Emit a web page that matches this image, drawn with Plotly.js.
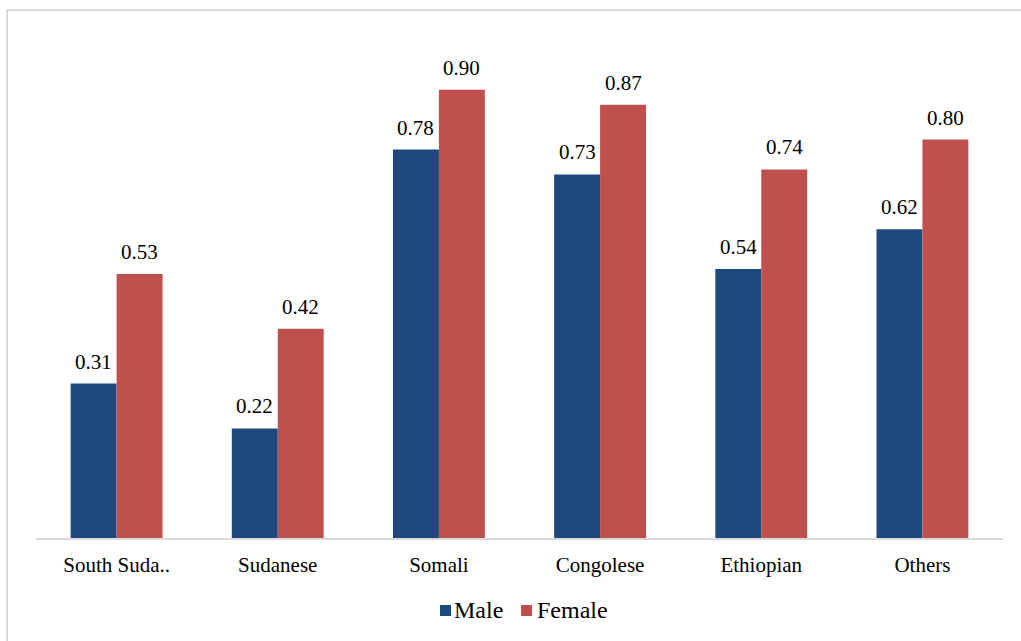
<!DOCTYPE html>
<html>
<head>
<meta charset="utf-8">
<script src="https://cdn.plot.ly/plotly-3.0.1.min.js"></script>
<style>
  html, body { margin: 0; padding: 0; background: #fff; }
  #chart { width: 1021px; height: 641px; }
</style>
</head>
<body>
<div id="chart"></div>
<script>
// Share by group and sex
const groups = ["South Suda..", "Sudanese", "Somali", "Congolese", "Ethiopian", "Others"];
const maleValues = [0.31, 0.22, 0.78, 0.73, 0.54, 0.62];
const femaleValues = [0.53, 0.42, 0.90, 0.87, 0.74, 0.80];
const seriesNames = ["Male", "Female"];

const maleColor = "#1F497D";
const femaleColor = "#C0504D";
const serif = "'Liberation Serif', 'Times New Roman', serif";

const traces = [
  { type: "bar", name: seriesNames[0], x: groups, y: maleValues,
    marker: { color: maleColor }, hoverinfo: "skip" },
  { type: "bar", name: seriesNames[1], x: groups, y: femaleValues,
    marker: { color: femaleColor }, hoverinfo: "skip" }
];

// Value labels above each bar, offset to the bar's half of the group
const annotations = [];
groups.forEach((g, i) => {
  annotations.push({ x: g, y: maleValues[i], xref: "x", yref: "y",
    text: maleValues[i].toFixed(2), showarrow: false, xshift: -23,
    yanchor: "bottom", yshift: 8, font: { family: serif, size: 21, color: "#000" } });
  annotations.push({ x: g, y: femaleValues[i], xref: "x", yref: "y",
    text: femaleValues[i].toFixed(2), showarrow: false, xshift: 23,
    yanchor: "bottom", yshift: 8, font: { family: serif, size: 21, color: "#000" } });
});

// Compact legend below the axis: small square swatch followed by the name
const legendItems = [
  { name: seriesNames[0], color: maleColor, x0: 0.4178, x1: 0.4292, tx: 0.4302 },
  { name: seriesNames[1], color: femaleColor, x0: 0.5016, x1: 0.5129, tx: 0.5160 }
];
const shapes = [{
  type: "rect", xref: "paper", yref: "paper",
  x0: -29 / 967, x1: 1.03, y0: -0.3, y1: 528 / 498,
  line: { color: "#D9D9D9", width: 2 }, fillcolor: "rgba(0,0,0,0)", layer: "below"
}];
legendItems.forEach(it => {
  shapes.push({ type: "rect", xref: "paper", yref: "paper",
    x0: it.x0, x1: it.x1, y0: -0.1566, y1: -0.1345,
    line: { width: 0 }, fillcolor: it.color });
  annotations.push({ xref: "paper", yref: "paper", x: it.tx, y: -0.1436,
    xanchor: "left", yanchor: "middle", showarrow: false, text: it.name,
    font: { family: serif, size: 24, color: "#000" } });
});

const layout = {
  width: 1021, height: 641,
  margin: { l: 36, r: 18, t: 40, b: 103 },
  paper_bgcolor: "#fff", plot_bgcolor: "#fff",
  barmode: "group", bargap: 0.43, bargroupgap: 0,
  font: { family: serif, size: 21, color: "#000" },
  xaxis: {
    showline: true, linecolor: "#D9D9D9", linewidth: 2,
    ticks: "", ticklabelstandoff: 7,
    tickfont: { family: serif, size: 21, color: "#000" },
    fixedrange: true
  },
  yaxis: {
    range: [0, 1.0], visible: false, showgrid: false, zeroline: false, fixedrange: true
  },
  showlegend: false,
  shapes: shapes,
  annotations: annotations
};

Plotly.newPlot("chart", traces, layout, { displayModeBar: false, staticPlot: true });
</script>
</body>
</html>
